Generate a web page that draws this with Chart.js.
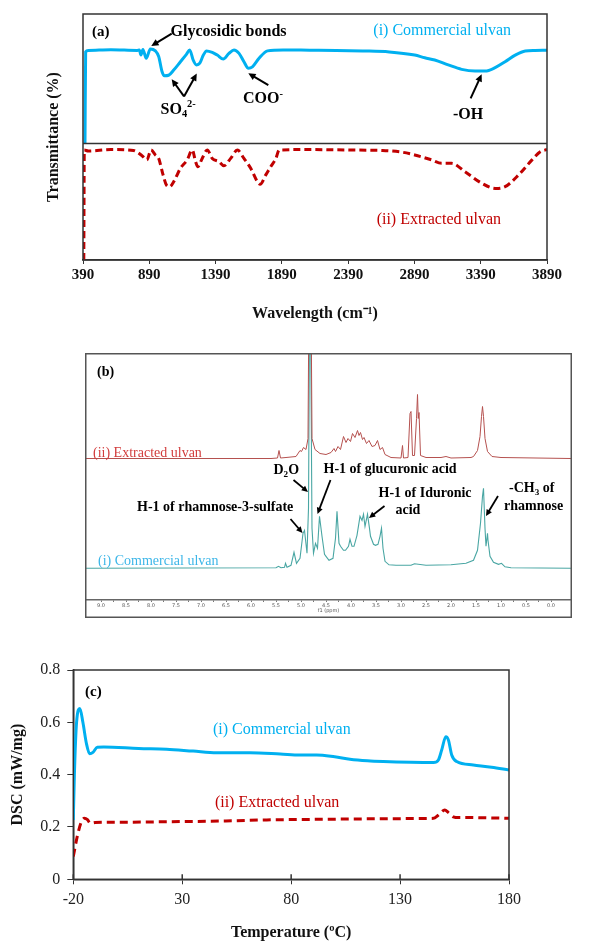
<!DOCTYPE html>
<html>
<head>
<meta charset="utf-8">
<script src="https://cdn.jsdelivr.net/npm/chart.js@4.4.1/dist/chart.umd.min.js"></script>
<style>
  body { margin: 0; background: #fff; }
  #wrap { position: relative; width: 589px; height: 942px; overflow: hidden; background: #fff; }
  #wrap canvas { position: absolute; }
</style>
</head>
<body>
<div id="wrap">
  <canvas id="ftir" width="589" height="330" style="left:0;top:0"></canvas>
  <canvas id="nmr" width="487" height="265" style="left:85px;top:353px"></canvas>
  <canvas id="dsc" width="589" height="302" style="left:0;top:640px"></canvas>
</div>
<script>
const SERIF = "'Liberation Serif', 'Times New Roman', serif";
const CYAN = '#00b0f0';
const DARKRED = '#c00000';

// (a) FTIR, transmittance in arbitrary units (two traces stacked)
const ftirTicks = [390, 890, 1390, 1890, 2390, 2890, 3390, 3890];
const ftirCommercialWn = [405, 410, 430, 600, 800, 815, 827, 842, 867, 898, 936, 961, 986, 1004, 1036, 1074, 1125, 1170, 1195, 1221,
  1246, 1271, 1297, 1322, 1365, 1403, 1448, 1491, 1529, 1567, 1604, 1638, 1668, 1718, 1782, 1900, 2100, 2300, 2500, 2700,
  2892, 2968, 3043, 3145, 3246, 3347, 3423, 3499, 3574, 3650, 3726, 3800, 3890];
const ftirCommercialT = [47.6, 84.6, 85.2, 85.5, 85.2, 85.4, 83.3, 85.6, 82.0, 85.8, 85.0, 82.7, 76.6, 74.9, 75.1, 77.2, 80.6, 83.6, 85.4, 81.3,
  79.3, 80.0, 83.2, 85.0, 84.4, 83.3, 81.7, 84.0, 85.4, 84.0, 80.6, 77.9, 78.5, 82.0, 85.0, 85.4, 85.3, 85.2, 85.0, 84.6,
  83.3, 82.2, 81.3, 79.3, 77.5, 76.8, 76.8, 78.2, 80.6, 83.3, 85.0, 85.2, 85.3];
const ftirExtractedWn = [396, 400, 430, 600, 771, 835, 872, 903, 936, 961, 994, 1019, 1044, 1074, 1125, 1176, 1214, 1239, 1256, 1289,
  1327, 1365, 1415, 1453, 1504, 1554, 1604, 1655, 1706, 1726, 1769, 1807, 1845, 1870, 2100, 2400, 2650, 2800, 2892, 3019,
  3095, 3170, 3271, 3398, 3499, 3574, 3676, 3777, 3839, 3890];
const ftirExtractedT = [0, 44.7, 44.3, 44.9, 44.5, 42.4, 40.7, 44.7, 42.7, 41.3, 34.6, 30.5, 29.8, 31.8, 37.3, 40.7, 44.7, 40.0, 37.9, 41.3,
  44.7, 41.3, 40.0, 38.3, 41.3, 44.7, 41.3, 37.3, 31.8, 30.8, 34.6, 38.0, 41.3, 44.7, 44.9, 44.7, 44.5, 43.8, 42.7, 40.7,
  39.3, 39.3, 35.9, 31.2, 29.1, 29.8, 34.6, 40.7, 44.0, 44.9];

// (b) 1H NMR, intensity above each trace's baseline
const nmrTickLabels = ['9.0', '8.5', '8.0', '7.5', '7.0', '6.5', '6.0', '5.5', '5.0', '4.5', '4.0', '3.5', '3.0', '2.5', '2.0', '1.5', '1.0', '0.5', '0.0'];
const nmrExtractedPpm = [9.30, 5.60, 5.47, 5.44, 5.41, 5.30, 5.10, 5.02, 4.99, 4.95, 4.90, 4.86, 4.82, 4.78, 4.72, 4.62, 4.50, 4.40, 4.34, 4.31,
  4.26, 4.21, 4.15, 4.10, 4.06, 4.01, 3.97, 3.92, 3.87, 3.84, 3.81, 3.77, 3.74, 3.69, 3.64, 3.58, 3.52, 3.47, 3.42, 3.37,
  3.32, 3.20, 3.00, 2.97, 2.95, 2.86, 2.82, 2.80, 2.77, 2.73, 2.69, 2.67, 2.655, 2.64, 2.61, 2.50, 2.20, 2.10, 2.00, 1.60,
  1.55, 1.47, 1.42, 1.39, 1.37, 1.35, 1.32, 1.27, 1.18, 1.00, -0.40];
const nmrExtractedI = [0, 0, 0.5, 8, 0.5, 1, 2, 8, 7, 11, 9, 20, 320, 20, 9, 5, 4, 6, 10, 7,
  12, 9, 22, 16, 20, 17, 25, 21, 28, 23, 26, 19, 21, 15, 18, 12, 13, 18, 9, 11,
  4, 1, 0.5, 13, 0.5, 1, 45, 47, 3, 3, 40, 64, 40, 46, 3, 1, 1, 2, 0.5, 1,
  2, 8, 22, 42, 52, 42, 20, 7, 2, 1, 0];
const nmrCommercialPpm = [9.30, 5.50, 5.45, 5.40, 5.33, 5.31, 5.28, 5.20, 5.14, 5.09, 5.02, 4.96, 4.93, 4.88, 4.85, 4.82, 4.78, 4.75, 4.71, 4.67,
  4.63, 4.58, 4.53, 4.50, 4.44, 4.36, 4.31, 4.28, 4.24, 4.21, 4.15, 4.11, 4.05, 4.02, 3.98, 3.94, 3.88, 3.82, 3.78, 3.75,
  3.72, 3.67, 3.63, 3.61, 3.55, 3.51, 3.46, 3.42, 3.39, 3.36, 3.32, 3.24, 3.10, 2.80, 2.73, 2.50, 2.00, 1.70, 1.55, 1.47,
  1.41, 1.37, 1.35, 1.32, 1.30, 1.27, 1.26, 1.22, 1.15, 1.05, 0.99, 0.92, 0.80, -0.40];
const nmrCommercialI = [0, 0.5, 2, 0.5, 1, 5, 1, 3, 16, 5, 10, 35, 38, 15, 60, 330, 40, 15, 25, 20,
  52, 32, 14, 12, 8, 10, 30, 57, 25, 22, 18, 18, 22, 29, 22, 22, 33, 52, 48, 54,
  42, 54, 40, 32, 24, 23, 24, 32, 40, 20, 7, 3.5, 3, 3, 4.5, 3, 3.5, 5, 8, 18,
  45, 72, 80, 40, 22, 35, 28, 12, 6, 4, 5, 1.5, 0.5, 0];

// (c) DSC
const dscXTicks = [-20, 30, 80, 130, 180];
const dscYTicks = [0, 0.2, 0.4, 0.6, 0.8];
const dscCommercialTemp = [-20, -19.5, -18.5, -17, -15.6, -14, -12.5, -11, -9, -6, 10, 22.8, 35, 45.8, 61.1, 75, 84.1, 91.7, 100, 107,
  115, 122.3, 135, 145.3, 147.6, 149.1, 151, 152.2, 153.7, 156, 163.6, 172, 180];
const dscCommercial = [0.227, 0.40, 0.60, 0.653, 0.60, 0.52, 0.48, 0.485, 0.505, 0.506, 0.50, 0.497, 0.49, 0.484, 0.484, 0.479, 0.475, 0.475, 0.468, 0.459,
  0.453, 0.450, 0.447, 0.446, 0.456, 0.494, 0.545, 0.532, 0.475, 0.450, 0.437, 0.428, 0.418];
const dscExtractedTemp = [-20, -18.2, -16.5, -15, -13.5, -12.2, -10, 0, 22.8, 50, 68.8, 90, 114.7, 135, 145.3, 147.5, 150.5, 152.2, 154.4, 157,
  160.5, 170, 180];
const dscExtracted = [0.087, 0.163, 0.215, 0.233, 0.228, 0.214, 0.217, 0.218, 0.22, 0.223, 0.227, 0.229, 0.231, 0.232, 0.233, 0.245, 0.265, 0.255, 0.239, 0.236,
  0.236, 0.235, 0.233];

function pts(xs, ys, shift) {
  return xs.map((x, i) => ({ x: x, y: ys[i] + (shift || 0) }));
}

function font(size, bold) {
  return { family: SERIF, size: size, weight: bold ? 'bold' : 'normal' };
}

// text with sub/superscript pieces: [text, 0|-1|1]
function richText(ctx, x, y, parts, size, bold, color, align) {
  const f = s => (bold ? 'bold ' : '') + s + 'px ' + SERIF;
  const sz = p => p[1] ? size * 0.65 : size;
  let total = 0;
  const widths = parts.map(p => { ctx.font = f(sz(p)); const w = ctx.measureText(p[0]).width; total += w; return w; });
  let cx = align === 'center' ? x - total / 2 : x;
  ctx.fillStyle = color;
  ctx.textAlign = 'left';
  ctx.textBaseline = 'middle';
  parts.forEach((p, i) => {
    ctx.font = f(sz(p));
    const dy = p[1] === 1 ? -size * 0.33 : p[1] === -1 ? size * 0.3 : 0;
    ctx.fillText(p[0], cx, y + dy);
    cx += widths[i];
  });
}

function arrow(ctx, x1, y1, x2, y2, w, head) {
  const a = Math.atan2(y2 - y1, x2 - x1);
  ctx.strokeStyle = '#000';
  ctx.fillStyle = '#000';
  ctx.lineWidth = w;
  ctx.beginPath();
  ctx.moveTo(x1, y1);
  ctx.lineTo(x2 - Math.cos(a) * head * 0.7, y2 - Math.sin(a) * head * 0.7);
  ctx.stroke();
  ctx.beginPath();
  ctx.moveTo(x2, y2);
  ctx.lineTo(x2 - head * Math.cos(a - 0.45), y2 - head * Math.sin(a - 0.45));
  ctx.lineTo(x2 - head * Math.cos(a + 0.45), y2 - head * Math.sin(a + 0.45));
  ctx.closePath();
  ctx.fill();
}

// labels + arrows placed in data coordinates, plus frame drawing
function notes(cfg) {
  return {
    id: 'notes',
    afterDraw(chart) {
      const ctx = chart.ctx, sx = chart.scales.x, sy = chart.scales.y;
      ctx.save();
      if (cfg.frame) cfg.frame(ctx, chart);
      (cfg.arrows || []).forEach(r => arrow(ctx,
        sx.getPixelForValue(r[0]), sy.getPixelForValue(r[1]),
        sx.getPixelForValue(r[2]), sy.getPixelForValue(r[3]), r[4] || 2, r[5] || 8));
      (cfg.texts || []).forEach(t => richText(ctx, sx.getPixelForValue(t.x), sy.getPixelForValue(t.y),
        t.parts, t.size, t.bold, t.color || '#000', t.align));
      ctx.restore();
    }
  };
}

// ---------- (a) FTIR ----------
new Chart(document.getElementById('ftir'), {
  type: 'line',
  data: {
    datasets: [
      { data: pts(ftirCommercialWn, ftirCommercialT), borderColor: CYAN, borderWidth: 3, pointRadius: 0, cubicInterpolationMode: 'monotone' },
      { data: pts(ftirExtractedWn, ftirExtractedT), borderColor: DARKRED, borderWidth: 3, borderDash: [7, 4], pointRadius: 0, cubicInterpolationMode: 'monotone' }
    ]
  },
  options: {
    responsive: false,
    animation: false,
    layout: { padding: { top: 14, right: 42, left: 44, bottom: 7 } },
    plugins: { legend: { display: false }, tooltip: { enabled: false } },
    scales: {
      x: {
        type: 'linear', min: 390, max: 3890,
        afterBuildTicks: s => { s.ticks = ftirTicks.map(v => ({ value: v })); },
        afterFit: s => { s.height = 63; },
        ticks: { font: font(15, true), color: '#111', padding: 2, maxRotation: 0, autoSkip: false, callback: v => String(v) },
        grid: { drawOnChartArea: false, tickLength: 4, color: '#333' },
        border: { color: '#333', width: 1.5 },
        title: { display: true, text: 'Wavelength (cm\u207B\u00B9)', font: font(16, true), color: '#111', padding: 0 }
      },
      y: {
        min: 0, max: 100,
        afterFit: s => { s.width = 39; },
        ticks: { display: false },
        grid: { display: false },
        border: { display: false },
        title: { display: true, text: 'Transmittance (%)', font: font(16, true), color: '#111', padding: 0 }
      }
    }
  },
  plugins: [notes({
    frame(ctx, chart) {
      const a = chart.chartArea, sy = chart.scales.y;
      ctx.strokeStyle = '#333';
      ctx.lineWidth = 1.5;
      ctx.strokeRect(a.left, a.top, a.right - a.left, a.bottom - a.top);
      const yd = sy.getPixelForValue(47.4);
      ctx.beginPath();
      ctx.moveTo(a.left, yd);
      ctx.lineTo(a.right, yd);
      ctx.stroke();
    },
    arrows: [
      [1059, 92, 905, 87],
      [1152, 66.5, 1059, 73.5],
      [1152, 66.5, 1248, 75.8],
      [1788, 71.1, 1637, 75.9],
      [3314, 65.7, 3397, 75.5]
    ],
    texts: [
      { x: 458, y: 92.8, parts: [['(a)']], size: 15, bold: true },
      { x: 1050, y: 92.8, parts: [['Glycosidic bonds']], size: 16, bold: true },
      { x: 975, y: 61, parts: [['SO'], ['4', -1], ['2-', 1]], size: 16, bold: true },
      { x: 1597, y: 65.4, parts: [['COO'], ['-', 1]], size: 16, bold: true },
      { x: 3294, y: 58.9, parts: [['-OH']], size: 16, bold: true, align: 'center' },
      { x: 2580, y: 93, parts: [['(i) Commercial ulvan']], size: 16, color: CYAN },
      { x: 2605, y: 16.5, parts: [['(ii) Extracted ulvan']], size: 16, color: DARKRED }
    ]
  })]
});

// ---------- (b) 1H NMR ----------
new Chart(document.getElementById('nmr'), {
  type: 'line',
  data: {
    datasets: [
      { data: pts(nmrExtractedPpm, nmrExtractedI, 141.5), borderColor: '#b5514f', borderWidth: 1, pointRadius: 0, tension: 0 },
      { data: pts(nmrCommercialPpm, nmrCommercialI, 31.7), borderColor: '#49a6a3', borderWidth: 1.1, pointRadius: 0, tension: 0 }
    ]
  },
  options: {
    responsive: false,
    animation: false,
    layout: { padding: { top: 1, right: 1, left: 1, bottom: 4 } },
    plugins: { legend: { display: false }, tooltip: { enabled: false } },
    scales: {
      x: {
        type: 'linear', min: -0.40, max: 9.30, reverse: true,
        afterBuildTicks: s => {
          const t = [];
          nmrTickLabels.forEach(l => { const v = Number(l); t.push({ value: v }); if (v > 0) t.push({ value: v - 0.25 }); });
          s.ticks = t;
        },
        afterFit: s => { s.height = 14; },
        ticks: {
          font: { family: 'DejaVu Sans', size: 5 }, color: '#555', padding: 1, maxRotation: 0, autoSkip: false,
          callback: v => nmrTickLabels.find(l => Number(l) === v) || ''
        },
        grid: { drawOnChartArea: false, tickLength: 2, color: '#777' },
        border: { color: '#666', width: 1.5 },
        title: { display: true, text: 'f1 (ppm)', font: { family: 'DejaVu Sans', size: 5 }, color: '#555', padding: 0 }
      },
      y: { display: false, min: 0, max: 246 }
    }
  },
  plugins: [notes({
    frame(ctx, chart) {
      ctx.strokeStyle = '#555';
      ctx.lineWidth = 1.5;
      ctx.strokeRect(0.75, 0.75, chart.width - 1.5, chart.height - 1.5);
    },
    arrows: [
      [5.15, 120, 4.86, 108, 1.8, 7],
      [4.41, 120, 4.67, 86, 1.8, 7],
      [5.21, 81, 4.97, 67, 1.8, 7],
      [3.33, 94, 3.64, 82, 1.8, 7],
      [1.06, 104, 1.30, 84, 1.8, 7]
    ],
    texts: [
      { x: 9.08, y: 228, parts: [['(b)']], size: 14, bold: true },
      { x: 9.16, y: 147, parts: [['(ii) Extracted ulvan']], size: 14, color: '#d23c3c' },
      { x: 9.06, y: 39, parts: [['(i) Commercial ulvan']], size: 14, color: '#3cb6e8' },
      { x: 5.55, y: 130, parts: [['D'], ['2', -1], ['O']], size: 14, bold: true },
      { x: 4.55, y: 131, parts: [['H-1 of glucuronic acid']], size: 14, bold: true },
      { x: 8.28, y: 93, parts: [['H-1 of rhamnose-3-sulfate']], size: 14, bold: true },
      { x: 3.45, y: 107, parts: [['H-1 of Iduronic']], size: 14, bold: true },
      { x: 3.11, y: 90, parts: [['acid']], size: 14, bold: true },
      { x: 0.84, y: 112, parts: [['-CH'], ['3', -1], [' of']], size: 14, bold: true },
      { x: 0.94, y: 94, parts: [['rhamnose']], size: 14, bold: true }
    ]
  })]
});

// ---------- (c) DSC ----------
new Chart(document.getElementById('dsc'), {
  type: 'line',
  data: {
    datasets: [
      { data: pts(dscCommercialTemp, dscCommercial), borderColor: CYAN, borderWidth: 3, pointRadius: 0, cubicInterpolationMode: 'monotone' },
      { data: pts(dscExtractedTemp, dscExtracted), borderColor: DARKRED, borderWidth: 3, borderDash: [8, 5], pointRadius: 0, cubicInterpolationMode: 'monotone' }
    ]
  },
  options: {
    responsive: false,
    animation: false,
    layout: { padding: { top: 30, right: 80, left: 8, bottom: 0 } },
    plugins: { legend: { display: false }, tooltip: { enabled: false } },
    scales: {
      x: {
        type: 'linear', min: -20, max: 180,
        afterBuildTicks: s => { s.ticks = dscXTicks.map(v => ({ value: v })); },
        afterFit: s => { s.height = 62.7; },
        ticks: { font: font(16), color: '#222', padding: 6, maxRotation: 0, autoSkip: false, callback: v => String(v) },
        grid: { drawOnChartArea: false, tickLength: 5, color: '#333' },
        border: { color: '#333', width: 1.5 },
        title: { display: true, text: 'Temperature (\u00BAC)', font: font(16, true), color: '#111', padding: 0 }
      },
      y: {
        min: 0, max: 0.8,
        afterBuildTicks: s => { s.ticks = dscYTicks.map(v => ({ value: v })); },
        afterFit: s => { s.width = 65.3; },
        ticks: { font: font(16), color: '#222', padding: 7, callback: v => v === 0 ? '0' : v.toFixed(1) },
        grid: { drawOnChartArea: false, tickLength: 6, color: '#333' },
        border: { color: '#333', width: 1.5 },
        title: { display: true, text: 'DSC (mW/mg)', font: font(16, true), color: '#111', padding: 0 }
      }
    }
  },
  plugins: [notes({
    frame(ctx, chart) {
      const a = chart.chartArea, sx = chart.scales.x;
      ctx.strokeStyle = '#333';
      ctx.lineWidth = 1.5;
      ctx.strokeRect(a.left, a.top, a.right - a.left, a.bottom - a.top);
      dscXTicks.forEach(v => {
        const px = sx.getPixelForValue(v);
        ctx.beginPath();
        ctx.moveTo(px, a.bottom);
        ctx.lineTo(px, a.bottom - 5);
        ctx.stroke();
      });
    },
    texts: [
      { x: -14.6, y: 0.716, parts: [['(c)']], size: 15, bold: true },
      { x: 44.1, y: 0.571, parts: [['(i) Commercial ulvan']], size: 16, color: CYAN },
      { x: 45, y: 0.292, parts: [['(ii) Extracted ulvan']], size: 16, color: DARKRED }
    ]
  })]
});
</script>
</body>
</html>
